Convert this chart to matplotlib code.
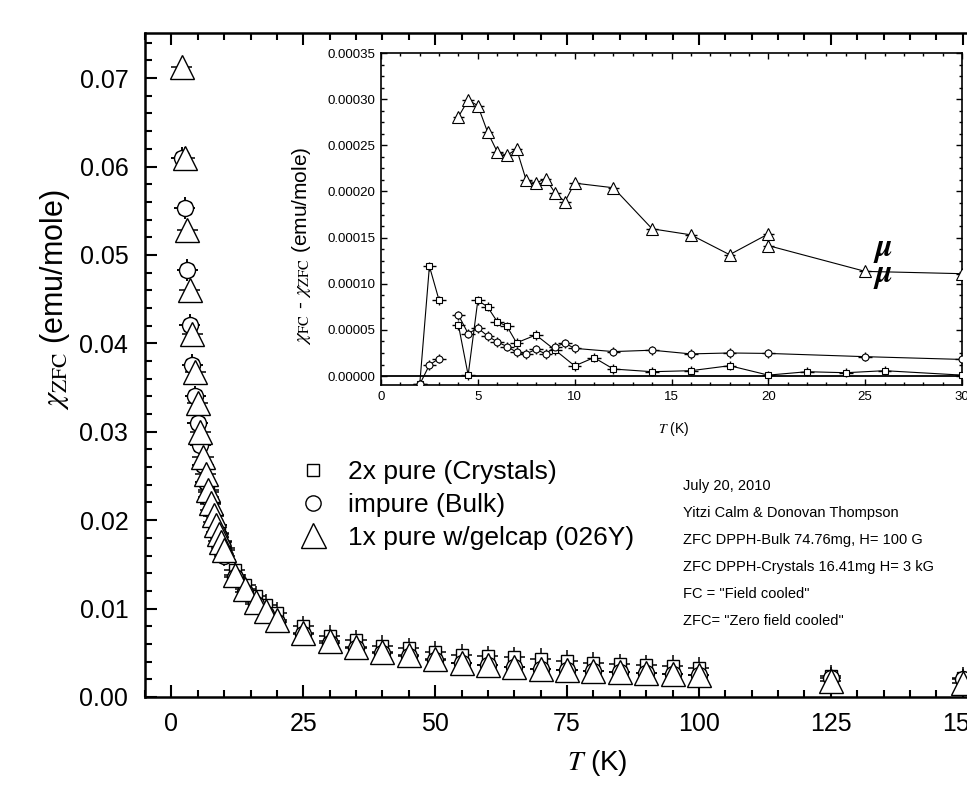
import matplotlib
matplotlib.use('Agg')
import matplotlib.pyplot as plt
import numpy as np
from matplotlib.ticker import MultipleLocator, AutoMinorLocator, FormatStrFormatter
from matplotlib.lines import Line2D

plt.rcParams['font.family'] = ['Liberation Sans', 'DejaVu Sans']
plt.rcParams['mathtext.fontset'] = 'stix'

# ---------------- main plot data ----------------
T_main = [2, 2.5, 3, 3.5, 4, 4.5, 5, 5.5, 6, 6.5, 7, 7.5, 8, 8.5, 9, 9.5, 10,
          12, 14, 16, 18, 20, 25, 30, 35, 40, 45, 50, 55, 60, 65, 70, 75, 80,
          85, 90, 95, 100, 125, 150]
chi_crystals = [0.0610, 0.0553, 0.0483, 0.0421, 0.0376, 0.0340, 0.0310, 0.0285,
                0.0262, 0.0243, 0.0232, 0.0218, 0.0205, 0.0195, 0.0185, 0.0176,
                0.0168, 0.0144, 0.0127, 0.0114, 0.0104, 0.0095, 0.0080, 0.0069,
                0.0064, 0.0058, 0.0055, 0.0051, 0.0048, 0.0046, 0.0045, 0.0043,
                0.0041, 0.0039, 0.0037, 0.0036, 0.0035, 0.0033, 0.0024, 0.0022]
chi_bulk = [0.0610, 0.0553, 0.0483, 0.0421, 0.0376, 0.0340, 0.0310, 0.0285,
            0.0262, 0.0243, 0.0226, 0.0211, 0.0198, 0.0187, 0.0177, 0.0168,
            0.0160, 0.0136, 0.0119, 0.0105, 0.0094, 0.0085, 0.0071, 0.0061,
            0.0055, 0.0050, 0.0046, 0.0042, 0.0039, 0.0036, 0.0034, 0.0032,
            0.0030, 0.0029, 0.0028, 0.0027, 0.0026, 0.0025, 0.0022, 0.0020]
chi_gelcap = [0.0712, 0.0610, 0.0528, 0.0460, 0.0411, 0.0368, 0.0332, 0.0300,
              0.0272, 0.0252, 0.0234, 0.0219, 0.0206, 0.0194, 0.0184, 0.0175,
              0.0166, 0.0138, 0.0122, 0.0108, 0.0097, 0.0087, 0.0072, 0.0063,
              0.0057, 0.0051, 0.0047, 0.0043, 0.0039, 0.0036, 0.0034, 0.0032,
              0.0030, 0.0029, 0.0028, 0.0027, 0.0026, 0.0025, 0.0018, 0.0016]
T_err = 2.0
chi_err = 0.0012

legend_labels = ["2x pure (Crystals)", "impure (Bulk)", "1x pure w/gelcap (026Y)"]

# ---------------- inset data ----------------
T_in_tri = [4, 4.5, 5, 5.5, 6, 6.5, 7, 7.5, 8, 8.5, 9, 9.5, 10, 12, 14, 16, 18,
            20, 20, 25, 30]
d_tri = [2.81e-4, 2.99e-4, 2.93e-4, 2.645e-4, 2.43e-4, 2.39e-4, 2.46e-4,
         2.12e-4, 2.09e-4, 2.14e-4, 1.98e-4, 1.89e-4, 2.09e-4, 2.04e-4,
         1.595e-4, 1.53e-4, 1.315e-4, 1.54e-4, 1.413e-4, 1.134e-4, 1.109e-4]

T_in_circ = [2, 2.5, 3, np.nan, 4, 4.5, 5, 5.5, 6, 6.5, 7, 7.5, 8, 8.5, 9, 9.5,
             10, 12, 14, 16, 18, 20, 25, 30]
d_circ = [-9e-6, 1.2e-5, 1.9e-5, np.nan, 6.6e-5, 4.6e-5, 5.2e-5, 4.35e-5,
          3.7e-5, 3.2e-5, 2.6e-5, 2.4e-5, 2.9e-5, 2.4e-5, 3.2e-5, 3.55e-5,
          3.0e-5, 2.65e-5, 2.8e-5, 2.4e-5, 2.5e-5, 2.45e-5, 2.1e-5, 1.8e-5]

T_in_sq = [2, 2.5, 3, np.nan, 4, 4.5, 5, 5.5, 6, 6.5, 7, 8, 9, 10, 11, 12, 14,
           16, 18, 20, 22, 24, 26, 30]
d_sq = [-9e-6, 1.19e-4, 8.2e-5, np.nan, 5.5e-5, 1e-6, 8.2e-5, 7.5e-5, 5.9e-5,
        5.4e-5, 3.6e-5, 4.45e-5, 2.8e-5, 1.1e-5, 2.0e-5, 7.6e-6, 4.7e-6,
        5.8e-6, 1.12e-5, 1e-6, 4.7e-6, 3.6e-6, 5.8e-6, 1e-6]

annotation_lines = ["July 20, 2010",
                    "Yitzi Calm & Donovan Thompson",
                    "ZFC DPPH-Bulk 74.76mg, H= 100 G",
                    "ZFC DPPH-Crystals 16.41mg H= 3 kG",
                    "FC = \"Field cooled\"",
                    "ZFC= \"Zero field cooled\""]

# ---------------- figure ----------------
W, H = 967, 786
fig = plt.figure(figsize=(W / 100, H / 100), dpi=100)

def fx(px):
    return px / W

def fy(py):
    return 1 - py / H

ax = fig.add_axes([fx(145), fy(697), fx(989) - fx(145), fy(33) - fy(697)])

errkw = dict(ecolor='black', elinewidth=1.1, capsize=0, ls='none', zorder=3)
ax.errorbar(T_main, chi_crystals, xerr=T_err, yerr=chi_err, marker='s', ms=8,
            mfc='white', mec='black', mew=1.0, **errkw)
ax.errorbar(T_main, chi_bulk, xerr=T_err, yerr=chi_err, marker='o', ms=11.5,
            mfc='white', mec='black', mew=1.0, **errkw)
ax.errorbar(T_main, chi_gelcap, xerr=T_err, yerr=chi_err, marker='^', ms=17,
            mfc='white', mec='black', mew=1.0, **errkw)

ax.set_xlim(-5, 155)
ax.set_ylim(0, 0.0751)
ax.xaxis.set_major_locator(MultipleLocator(25))
ax.xaxis.set_minor_locator(MultipleLocator(5))
ax.yaxis.set_major_locator(MultipleLocator(0.01))
ax.yaxis.set_minor_locator(MultipleLocator(0.002))
ax.yaxis.set_major_formatter(FormatStrFormatter('%.2f'))
ax.tick_params(which='both', direction='in', top=True, right=True, width=1.5)
ax.tick_params(which='major', length=8.5, labelsize=18)
ax.tick_params(axis='x', which='major', pad=11)
ax.tick_params(axis='y', which='major', pad=12)
ax.tick_params(which='minor', length=5)
for s in ax.spines.values():
    s.set_linewidth(1.8)

ax.set_xlabel(r"$T$ (K)", fontsize=20)
ax.xaxis.set_label_coords(0.536, -0.077)
ax.set_ylabel(r"$\chi_{\mathrm{ZFC}}$ (emu/mole)", fontsize=22)
ax.yaxis.set_label_coords(-0.0865, 0.598)

handles = [Line2D([], [], marker='s', ms=9, mfc='white', mec='black', mew=1.0, ls='none'),
           Line2D([], [], marker='o', ms=11, mfc='white', mec='black', mew=1.0, ls='none'),
           Line2D([], [], marker='^', ms=18, mfc='white', mec='black', mew=1.0, ls='none')]
fig.legend(handles, legend_labels, loc='center left', bbox_to_anchor=(fx(300), fy(505)),
           frameon=False, fontsize=19, handlelength=1.0, handletextpad=0.8,
           labelspacing=0.33, borderpad=0, borderaxespad=0)

for i, line in enumerate(annotation_lines):
    fig.text(fx(683), fy(486 + 27 * i), line, fontsize=10.5, ha='left', va='center')

# ---------------- inset ----------------
ins = fig.add_axes([fx(381), fy(385), fx(962) - fx(381), fy(53) - fy(385)])
ins.axhline(0, color='black', lw=1.3, zorder=1)
ekw = dict(ecolor='black', elinewidth=1.0, capsize=0, color='black', lw=0.8, zorder=3)
ins.errorbar(T_in_sq, d_sq, xerr=0.35, yerr=5e-6, marker='s', ms=4.5,
             mfc='white', mec='black', mew=0.8, **ekw)
ins.errorbar(T_in_circ, d_circ, xerr=0.35, yerr=5e-6, marker='o', ms=5,
             mfc='white', mec='black', mew=0.8, **ekw)
ins.errorbar(T_in_tri, d_tri, xerr=0.3, yerr=5e-6, marker='^', ms=8,
             mfc='white', mec='black', mew=0.8, **ekw)

ins.set_xlim(0, 30)
ins.set_ylim(-0.0000097, 0.00035)
ins.xaxis.set_major_locator(MultipleLocator(5))
ins.xaxis.set_minor_locator(MultipleLocator(1))
ins.yaxis.set_major_locator(MultipleLocator(0.00005))
ins.yaxis.set_minor_locator(AutoMinorLocator(4))
ins.yaxis.set_major_formatter(FormatStrFormatter('%.5f'))
ins.tick_params(which='both', direction='in', top=True, right=True, width=1.0)
ins.tick_params(which='major', length=4.5, labelsize=9.5, pad=4)
ins.tick_params(which='minor', length=2.5)
for s in ins.spines.values():
    s.set_linewidth(1.2)

ins.set_xlabel(r"$T$ (K)", fontsize=10)
ins.xaxis.set_label_coords(0.503, -0.105)
ins.set_ylabel(r"$\chi_{\mathrm{FC}}$ - $\chi_{\mathrm{ZFC}}$ (emu/mole)", fontsize=15)
ins.yaxis.set_label_coords(-0.117, 0.419)

ins.text(25.9, 1.37e-4, r"$\boldsymbol{\mu}$", fontsize=23, ha='center', va='center')
ins.text(25.9, 1.087e-4, r"$\boldsymbol{\mu}$", fontsize=23, ha='center', va='center')

fig.savefig('out.png', dpi=100)
